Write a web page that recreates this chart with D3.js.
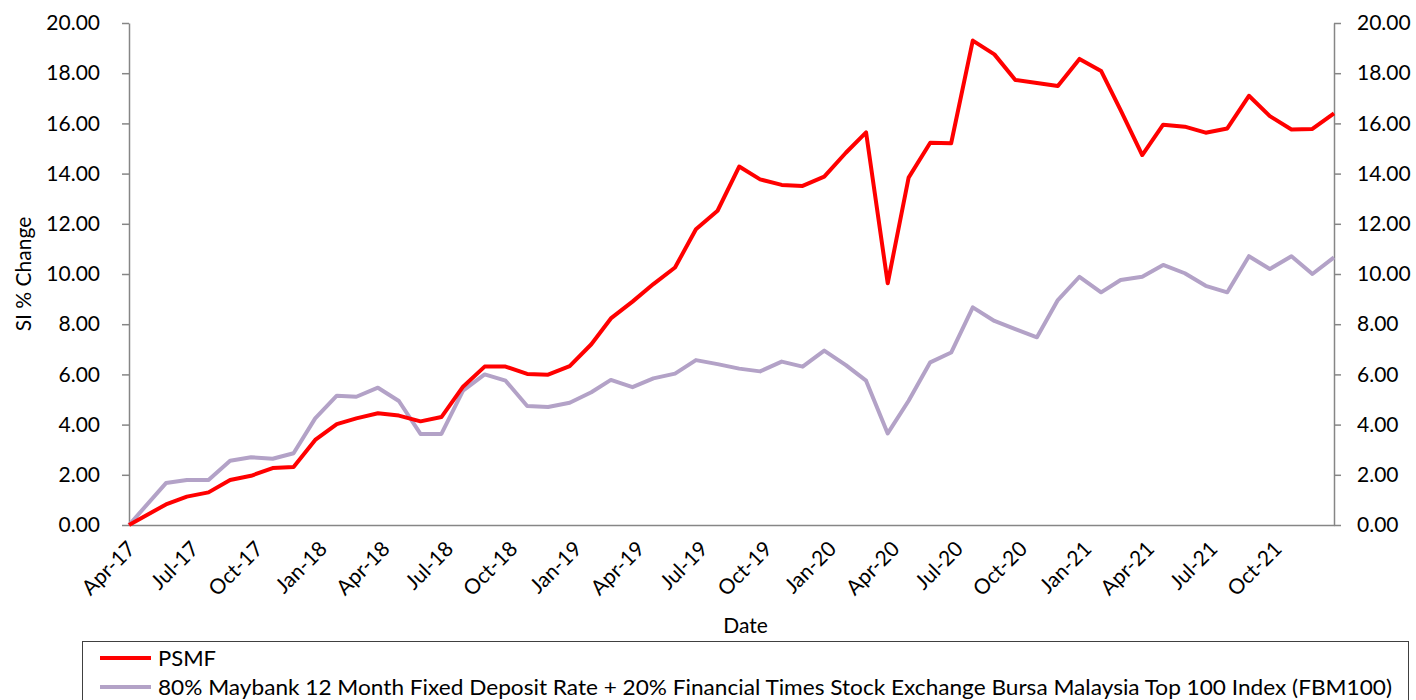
<!DOCTYPE html>
<html><head><meta charset="utf-8">
<script src="https://cdn.jsdelivr.net/npm/d3@7"></script>
<style>
body{margin:0;background:#fff}
svg{display:block}
text{font-family:Lato,"Open Sans",sans-serif;fill:#000}
</style>
</head><body>
<svg id="c" width="1416" height="700"></svg>
<script>
// ---- data ----
const dates = [
  "2017-04-08","2017-05-31","2017-06-30","2017-07-31","2017-08-31","2017-09-30","2017-10-31","2017-11-30","2017-12-31",
  "2018-01-31","2018-02-28","2018-03-31","2018-04-30","2018-05-31","2018-06-30","2018-07-31","2018-08-31","2018-09-30","2018-10-31","2018-11-30","2018-12-31",
  "2019-01-31","2019-02-28","2019-03-31","2019-04-30","2019-05-31","2019-06-30","2019-07-31","2019-08-31","2019-09-30","2019-10-31","2019-11-30","2019-12-31",
  "2020-01-31","2020-02-29","2020-03-31","2020-04-30","2020-05-31","2020-06-30","2020-07-31","2020-08-31","2020-09-30","2020-10-31","2020-11-30","2020-12-31",
  "2021-01-31","2021-02-28","2021-03-31","2021-04-30","2021-05-31","2021-06-30","2021-07-31","2021-08-31","2021-09-30","2021-10-31","2021-11-30","2021-12-31"
];
const psmf = [
  0.00, 0.82, 1.13, 1.30, 1.79, 1.96, 2.27, 2.31, 3.39,
  4.02, 4.25, 4.45, 4.36, 4.13, 4.30, 5.51, 6.31, 6.31, 6.02, 5.99, 6.33,
  7.20, 8.23, 8.90, 9.60, 10.26, 11.78, 12.52, 14.28, 13.77, 13.55, 13.51, 13.88,
  14.83, 15.64, 9.63, 13.84, 15.23, 15.21, 19.30, 18.75, 17.73, 17.61, 17.49, 18.57,
  18.09, 16.53, 14.74, 15.95, 15.87, 15.63, 15.80, 17.10, 16.29, 15.76, 15.78, 16.40
];
const benchmark = [
  0.00, 1.67, 1.79, 1.79, 2.56, 2.70, 2.64, 2.86, 4.25,
  5.15, 5.11, 5.47, 4.94, 3.63, 3.63, 5.35, 6.00, 5.75, 4.74, 4.70, 4.87,
  5.29, 5.78, 5.49, 5.84, 6.03, 6.57, 6.41, 6.23, 6.12, 6.51, 6.31, 6.95,
  6.37, 5.75, 3.65, 4.95, 6.48, 6.87, 8.67, 8.13, 7.80, 7.48, 8.96, 9.89,
  9.27, 9.76, 9.89, 10.36, 10.03, 9.53, 9.27, 10.71, 10.20, 10.71, 10.00, 10.66
];
const yTicks = [0,2,4,6,8,10,12,14,16,18,20];
const xTickLabels = ["Apr-17","Jul-17","Oct-17","Jan-18","Apr-18","Jul-18","Oct-18","Jan-19","Apr-19","Jul-19","Oct-19","Jan-20","Apr-20","Jul-20","Oct-20","Jan-21","Apr-21","Jul-21","Oct-21"];
const seriesNames = ["PSMF","80% Maybank 12 Month Fixed Deposit Rate + 20% Financial Times Stock Exchange Bursa Malaysia Top 100 Index (FBM100)"];
const colors = ["#ff0000","#b3a2c7"];

// ---- layout ----
const L = 129, R = 1334, T = 23, B = 525;
const parse = d3.timeParse("%Y-%m-%d");
const dd = dates.map(parse);
const svg = d3.select("#c");

const x = d3.scaleTime().domain([dd[0], dd[dd.length-1]]).range([L, R]);
const y = d3.scaleLinear().domain([0,20]).range([B, T]);
const fmt = d3.format(".2f");
const axisColor = "#868686";

// left axis
const gl = svg.append("g").attr("transform",`translate(${L},0)`)
  .call(d3.axisLeft(y).tickValues(yTicks).tickFormat(fmt).tickSize(7).tickPadding(22).tickSizeOuter(0));
// right axis
const gr = svg.append("g").attr("transform",`translate(${R},0)`)
  .call(d3.axisRight(y).tickValues(yTicks).tickFormat(fmt).tickSize(7).tickPadding(16).tickSizeOuter(0));
[gl,gr].forEach(g=>{
  g.select(".domain").attr("stroke",axisColor).attr("stroke-width",1.5);
  g.selectAll(".tick line").attr("stroke",axisColor).attr("stroke-width",1.5);
  g.selectAll("text").style("font-family","Lato, sans-serif").style("font-size","21px").attr("fill","#000");
});

// x axis
const tickDates = xTickLabels.map((l,i)=>d3.timeMonth.offset(dd[0], 3*i));
const gx = svg.append("g").attr("transform",`translate(0,${B})`)
  .call(d3.axisBottom(x).tickValues(tickDates).tickFormat((d,i)=>xTickLabels[i]).tickSize(0).tickSizeOuter(0));
gx.select(".domain").attr("stroke",axisColor).attr("stroke-width",1.5);
gx.selectAll(".tick text")
  .style("font-family","Lato, sans-serif").style("font-size","21px").attr("fill","#000")
  .attr("text-anchor","end").attr("x",0).attr("y",0).attr("dy","0.35em")
  .attr("transform","translate(2,20) rotate(-45)");

// lines
const line = d3.line().x((d,i)=>x(dd[i])).y(d=>y(d));
[benchmark, psmf].forEach((s,k)=>{
  svg.append("path").datum(s).attr("d",line)
    .attr("fill","none").attr("stroke", k===0?colors[1]:colors[0])
    .attr("stroke-width",4).attr("stroke-linejoin","round");
});

// axis titles
svg.append("text").attr("transform",`translate(24,${(T+B)/2}) rotate(-90)`)
  .attr("text-anchor","middle").attr("dy","0.35em").style("font-size","21px").text("SI % Change");
svg.append("text").attr("x",(L+R)/2+14).attr("y",626).attr("text-anchor","middle").attr("dy","0.35em")
  .style("font-size","21px").text("Date");

// legend
svg.append("rect").attr("x",82.5).attr("y",641.5).attr("width",1326).attr("height",80)
  .attr("fill","none").attr("stroke","#404040").attr("stroke-width",1);
const legendWidths = [58, 1234];
seriesNames.forEach((n,i)=>{
  const yy = 658 + i*29;
  svg.append("line").attr("x1",100).attr("x2",151).attr("y1",yy).attr("y2",yy)
    .attr("stroke",colors[i]).attr("stroke-width",4);
  svg.append("text").attr("x",158).attr("y",yy).attr("dy","0.35em").style("font-size","22px")
    .attr("textLength",legendWidths[i]).attr("lengthAdjust","spacingAndGlyphs").text(n);
});
</script>
</body></html>
